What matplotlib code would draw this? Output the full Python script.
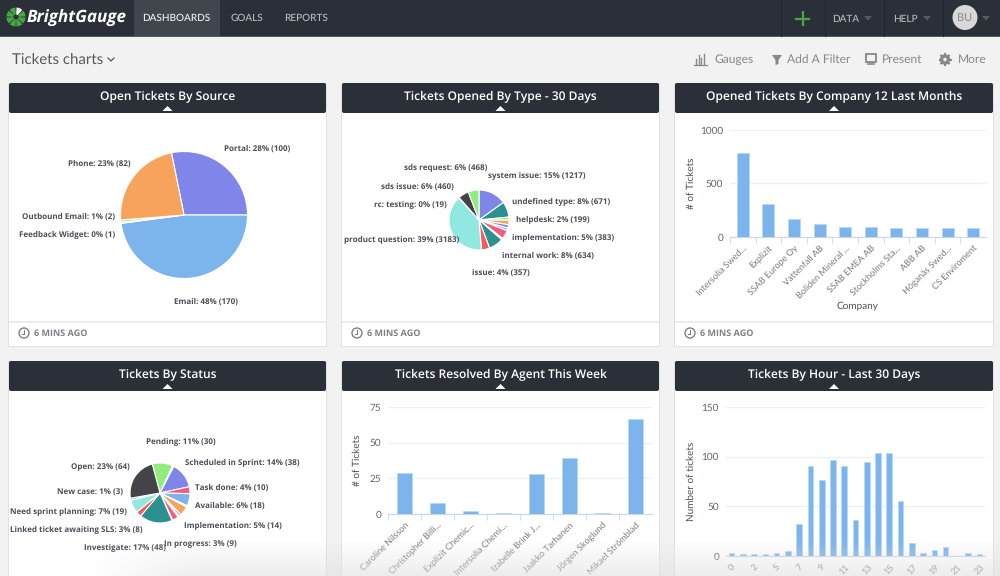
import numpy as np
import matplotlib
matplotlib.use('Agg')
import matplotlib.pyplot as plt
from matplotlib.patches import Rectangle, Circle, Wedge, Polygon, FancyBboxPatch

# chart data
source_names = ['Portal', 'Email', 'Feedback Widget', 'Outbound Email', 'Phone']
source_values = [100, 170, 1, 2, 82]
source_labels = ['Portal: 28% (100)', 'Email: 48% (170)', 'Feedback Widget: 0% (1)',
                 'Outbound Email: 1% (2)', 'Phone: 23% (82)']

type_values = [1217, 671, 130, 199, 150, 110, 383, 70, 634, 357, 3183, 19, 460, 468]
type_labels = ['system issue: 15% (1217)', 'undefined type: 8% (671)', 'helpdesk: 2% (199)',
               'implementation: 5% (383)', 'internal work: 8% (634)', 'issue: 4% (357)',
               'product question: 39% (3183)', 'rc: testing: 0% (19)', 'sds issue: 6% (460)',
               'sds request: 6% (468)']

status_values = [30, 2, 38, 10, 18, 2, 14, 3, 2, 9, 1, 48, 8, 19, 3, 64]
status_labels = ['Pending: 11% (30)', 'Scheduled in Sprint: 14% (38)', 'Task done: 4% (10)',
                 'Available: 6% (18)', 'Implementation: 5% (14)', 'In progress: 3% (9)',
                 'Investigate: 17% (48)', 'Linked ticket awaiting SLS: 3% (8)',
                 'Need sprint planning: 7% (19)', 'New case: 1% (3)', 'Open: 23% (64)']

companies = ['Intersolia Swed...', 'Explizit', 'SSAB Europe Oy', 'Vattenfall AB', 'Boliden Mineral ...',
             'SSAB EMEA AB', 'Stockholms Sta...', 'ABB AB', 'Höganäs Swed...', 'CS Enviroment']
company_tickets = [785, 310, 165, 122, 97, 97, 88, 88, 88, 82]

agents = ['Caroline Nilsson', 'Christopher Billi...', 'Explizit Chemic...', 'Intersolia Chemi...',
          'Izabelle Brink J...', 'Jaakko Tarhanen', 'Jörgen Skoglund', 'Mikael Strömblad']
agent_tickets = [29, 8, 2, 1, 28, 39.5, 1, 66.5]

hours = [0, 1, 2, 4, 5, 6, 7, 8, 9, 10, 11, 12, 13, 14, 15, 16, 17, 18, 19, 20, 21, 22, 23]
hour_tickets = [3, 2, 2, 2, 3.5, 5, 32, 91, 77, 97, 91, 36, 95, 104, 104, 55, 13, 3, 6.5, 9.5, 0, 3.5, 2]

panel_titles = ['Open Tickets By Source', 'Tickets Opened By Type - 30 Days',
                'Opened Tickets By Company 12 Last Months', 'Tickets By Status',
                'Tickets Resolved By Agent This Week', 'Tickets By Hour - Last 30 Days']

# colours
BLUE, DARK, GREEN, ORANGE, PURPLE = '#7cb5ec', '#434348', '#90ed7d', '#f7a35c', '#8085e9'
PINK, TEAL, RED, AQUA, PEACH = '#f15c80', '#2b908f', '#f45b5b', '#91e8e1', '#f7c9a0'
source_colors = [PURPLE, BLUE, '#dff5d8', GREEN, ORANGE]
type_colors = [PURPLE, TEAL, GREEN, ORANGE, PURPLE, BLUE, PINK, PEACH, TEAL, RED, AQUA, BLUE, DARK, GREEN]
status_colors = [GREEN, ORANGE, PURPLE, PINK, BLUE, GREEN, ORANGE, PURPLE, '#4a6fd0', PINK, PEACH,
                 TEAL, RED, AQUA, BLUE, DARK]
NAV = '#2b2f38'
LABEL = '#4b4f57'

plt.rcParams['font.family'] = ['Lato', 'DejaVu Sans']
plt.rcParams['text.hinting'] = 'no_hinting'
plt.rcParams['text.hinting_factor'] = 1
W, H = 1000, 576
fig = plt.figure(figsize=(W / 100, H / 100), dpi=100, facecolor='#f2f2f2')

bg = fig.add_axes([0, 0, 1, 1], zorder=0)
bg.set_xlim(0, W)
bg.set_ylim(H, 0)
bg.axis('off')

top = fig.add_axes([0, 0, 1, 1], zorder=5)
top.set_xlim(0, W)
top.set_ylim(H, 0)
top.axis('off')
top.patch.set_alpha(0)


def box(l, t, r, b):
    # axes rectangle from pixel edges
    return [l / W, 1 - b / H, (r - l) / W, (b - t) / H]


# top nav
bg.add_patch(Rectangle((0, 0), W, 36, color=NAV, lw=0))
bg.add_patch(Rectangle((0, 36), W, 1, color='#555a62', lw=0))
bg.add_patch(Rectangle((134, 0), 86, 36, color='#41454d', lw=0))
for x in [781, 825, 884, 943]:
    bg.plot([x, x], [0, 36], color='#23262e', lw=0.8)
for k in range(8):
    a = 22.5 + k * 45
    c = 'white' if k == 2 else '#46a843'
    bg.add_patch(Wedge((16, 17), 9.5, -a - 19 + 45, -a + 19 + 45, width=7, color=c, lw=0))
bg.text(27, 18.5, 'BrightGauge', color='white', fontsize=12, weight='bold', style='italic',
        family='Open Sans', va='center', ha='left')
for x, s, c in [(176.5, 'DASHBOARDS', '#f2f2f2'), (247, 'GOALS', '#b8bbc0'), (306, 'REPORTS', '#b8bbc0')]:
    bg.text(x, 18.5, s, color=c, fontsize=7, ha='center', va='center', weight='medium')
bg.plot([796, 809], [18.5, 18.5], color='#46a843', lw=1.6)
bg.plot([802.5, 802.5], [12, 25], color='#46a843', lw=1.6)
for x, s in [(846, 'DATA'), (905, 'HELP')]:
    bg.text(x, 19, s, color='#c0c3c7', fontsize=7, ha='center', va='center')
for x in [868, 927, 986]:
    bg.add_patch(Polygon([(x - 4, 16), (x + 4, 16), (x, 20.5)], color='#555a62', lw=0))
bg.add_patch(Circle((965, 17.5), 12.5, color='#d8d8d8', lw=0))
bg.text(965, 17.5, 'BU', color='#8a8a8a', fontsize=8, ha='center', va='center')

# sub header
bg.text(12, 59.5, 'Tickets charts', color='#55585e', fontsize=10.6, ha='left', va='center')
bg.plot([108, 111, 114], [58, 61, 58], color='#55585e', lw=0.9)
for x, s in [(714, 'Gauges'), (787, 'Add A Filter'), (882, 'Present'), (958, 'More')]:
    bg.text(x, 59.5, s, color='#85878b', fontsize=8.8, ha='left', va='center')
for x, h in zip([696, 698.5, 701, 703.5], [5, 9, 6, 10]):
    bg.plot([x, x], [64, 64 - h], color='#85878b', lw=1)
bg.plot([694, 707], [65, 65], color='#85878b', lw=0.9)
bg.add_patch(Polygon([(772, 55), (782, 55), (778.5, 60), (778.5, 64), (775.5, 65), (775.5, 60)],
                     color='#85878b', lw=0))
bg.add_patch(Rectangle((866, 54), 9.5, 7.5, fc='none', ec='#85878b', lw=1.3))
bg.plot([868, 874], [64, 64], color='#85878b', lw=1.2)
bg.add_patch(Circle((945, 59.5), 3.5, fc='none', ec='#85878b', lw=2.4))
for k in range(8):
    a = np.deg2rad(k * 45)
    bg.plot([945 + 3.5 * np.cos(a), 945 + 5.5 * np.cos(a)], [59.5 + 3.5 * np.sin(a), 59.5 + 5.5 * np.sin(a)],
            color='#85878b', lw=1.5)

# panels
lefts = [(9, 326), (342, 659), (675, 993)]
rows = [83, 361]
for i, title in enumerate(panel_titles):
    l, r = lefts[i % 3]
    t = rows[i // 3]
    b = 346 if i < 3 else 600
    bg.add_patch(Rectangle((l - 1, t), r - l + 2, b - t + 1, color='#dfe1e5', lw=0))
    bg.add_patch(Rectangle((l, t + 27), r - l, b - t - 27, color='white', lw=0))
    bg.add_patch(FancyBboxPatch((l + 2, t + 2), r - l - 4, 26, boxstyle='round,pad=2', color=NAV, lw=0))
    bg.add_patch(Rectangle((l, t + 14), r - l, 14, color=NAV, lw=0))
    mid = (l + r) / 2
    bg.add_patch(Polygon([(mid - 5, t + 28), (mid + 5, t + 28), (mid, t + 23)], color='white', lw=0))
    bg.text(mid, t + 13.5, title, color='white', fontsize=8.6, ha='center', va='center', weight='semibold',
            family='Open Sans')
    if i < 3:
        bg.add_patch(Rectangle((l, 321), r - l, 1.5, color='#ececee', lw=0))
        bg.add_patch(Circle((l + 15, 333), 5, fc='none', ec='#7d8187', lw=1))
        bg.plot([l + 15, l + 15, l + 12.5], [330, 333.5, 333.5], color='#7d8187', lw=0.8)
        bg.text(l + 25, 333.5, '6 MINS AGO', color='#7d8187', fontsize=6.2, ha='left', va='center', weight='bold',
                family='Open Sans')


def draw_pie(cx, cy, rad, values, colors, start, lw):
    ax = fig.add_axes(box(cx - rad - 2, cy - rad - 2, cx + rad + 2, cy + rad + 2), zorder=2)
    ax.pie(values, colors=colors, startangle=start, counterclock=False,
           wedgeprops={'edgecolor': 'white', 'linewidth': lw})
    lim = (rad + 2) / rad
    ax.set_xlim(-lim, lim)
    ax.set_ylim(-lim, lim)
    ax.set_aspect('equal')
    return ax


def pie_labels(labels, spots):
    for s, (x, y) in zip(labels, spots):
        top.text(x, y, s, color=LABEL, fontsize=6.1, weight='bold', ha='center', va='center', family='Open Sans')


def draw_bars(edges, names, values, ymax, step, bar_w, ylabel, ylabel_x):
    l, t, r, b = edges
    ax = fig.add_axes(box(l, t, r, b), zorder=2)
    ax.patch.set_alpha(0)
    x = np.arange(len(names))
    ax.bar(x, values, width=bar_w, color=BLUE, edgecolor='#b9d8f5', linewidth=0.6, zorder=3)
    ax.set_xlim(-0.5, len(names) - 0.5)
    ax.set_ylim(0, ymax)
    ax.set_yticks(np.arange(0, ymax + 1, step))
    ax.tick_params(axis='y', length=0, labelsize=7.3, labelcolor='#666666', pad=5)
    ax.grid(axis='y', color='#eef0f2', lw=1, zorder=0)
    for side in ['top', 'right', 'left']:
        ax.spines[side].set_visible(False)
    ax.spines['bottom'].set_color('#ccd6eb')
    ax.set_axisbelow(True)
    ax.set_ylabel(ylabel, fontsize=7, color=LABEL)
    ax.yaxis.set_label_coords((ylabel_x - l) / (r - l), 0.5)
    return ax, x


def category_axis(ax, x, names):
    ax.set_xticks(x - 0.5, minor=True)
    ax.set_xticks(x)
    ax.set_xticklabels(names, rotation=45, ha='right', rotation_mode='anchor', fontsize=6.2, color='#777777')
    ax.tick_params(axis='x', which='major', length=0, pad=5)
    ax.tick_params(axis='x', which='minor', length=4, color='#ccd6eb')


# pies
draw_pie(184, 215, 63.5, source_values, source_colors, 101.4, 0.8)
pie_labels(source_labels, [(257, 149), (206, 302), (67, 235), (68.5, 217), (99, 164)])

draw_pie(479, 220, 30, type_values, type_colors, 90, 0.8)
pie_labels(type_labels, [(537, 176), (561, 202), (553, 220), (563, 238), (548, 256), (501, 273),
                         (402, 240), (410, 205), (417, 187), (446, 168)])

draw_pie(160, 493, 30, status_values, status_colors, 105, 0.8)
pie_labels(status_labels, [(181, 442), (242, 463), (232, 488), (230, 506), (233, 526), (200, 544),
                           (125, 548), (76, 530), (68, 512), (90, 493), (100, 467)])

# company bars
ax, x = draw_bars((730, 130, 986, 237), companies, company_tickets, 1000, 500, 0.47, '# of Tickets', 696)
category_axis(ax, x, companies)
top.text(857.5, 305, 'Company', color=LABEL, fontsize=7, ha='center', va='center')

# agent bars
ax, x = draw_bars((388, 407, 652, 514), agents, agent_tickets, 75, 25, 0.46, '# of Tickets', 362)
category_axis(ax, x, agents)

# hour bars
ax, x = draw_bars((726, 407, 985, 556), hours, hour_tickets, 150, 50, 0.5, 'Number of tickets', 696)
ax.set_xticks(x[::2])
ax.set_xticklabels([str(h) for h in hours[::2]], rotation=45, ha='center', fontsize=6.8, color='#777777')
ax.tick_params(axis='x', length=0, pad=5)

# fade across the bottom of the page
fade = np.zeros((40, 1000, 4))
fade[..., :3] = 0.88
ramp_y = np.clip((np.arange(40) - 4) / 36, 0, 1)[:, None]
ramp_x = np.clip((np.arange(1000) - 90) / 110, 0, 1)[None, :]
fade[..., 3] = 0.6 * ramp_y * ramp_x
top.imshow(fade, extent=(0, W, H, H - 40), aspect='auto', zorder=10)
top.set_xlim(0, W)
top.set_ylim(H, 0)

fig.savefig('out.png', dpi=100, facecolor=fig.get_facecolor())
